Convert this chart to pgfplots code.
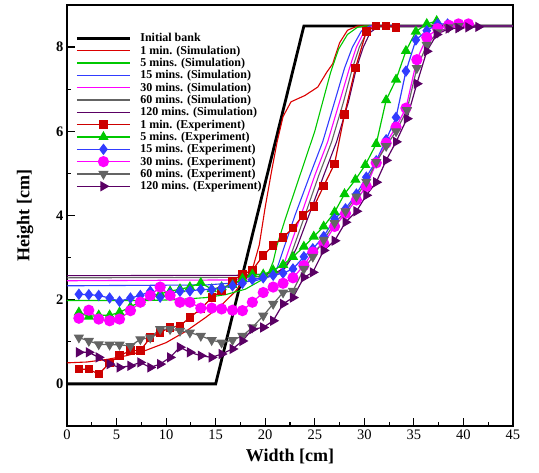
\documentclass[border=0pt]{standalone}
\usepackage{fontspec}
\setmainfont{Liberation Serif}
\usepackage{pgfplots}
\pgfplotsset{compat=1.18}
\definecolor{cred}{RGB}{220,0,0}
\definecolor{cdred}{RGB}{205,0,0}
\definecolor{cgreen}{RGB}{0,200,0}
\definecolor{cblue}{RGB}{50,60,255}
\definecolor{cmag}{RGB}{255,0,255}
\definecolor{cgray}{RGB}{100,100,100}
\definecolor{cpurp}{RGB}{90,0,100}
\begin{document}
\begin{tikzpicture}
\begin{axis}[
  scale only axis, width=446pt, height=421pt,
  xmin=0, xmax=45, ymin=-1, ymax=9,
  xtick={0,5,...,45}, ytick={0,2,4,6,8},
  minor x tick num=1, minor y tick num=1,
  tick pos=left, tick align=inside,
  major tick length=8pt, minor tick length=4pt,
  every tick/.style={black, line width=1.2pt},
  axis line style={line width=1.6pt},
  /pgf/number format/assume math mode=true,
  x tick label style={font=\fontsize{14.5}{15}\selectfont},
  y tick label style={font=\bfseries\fontsize{14.5}{15}\selectfont},
  xlabel={Width [cm]}, ylabel={Height [cm]},
  xlabel shift=3pt, ylabel shift=16pt,
  label style={font=\bfseries\fontsize{18}{19}\selectfont},
  legend style={draw=none, fill=none, at={(0.012,0.94)}, anchor=north west,
    font=\bfseries\fontsize{12}{12.5}\selectfont, row sep=0.5pt,
    nodes={inner sep=1pt},
    /tikz/every odd column/.append style={column sep=8pt}},
  legend cell align=left,
  legend image code/.code={\draw[mark repeat=2,mark phase=2] plot coordinates {(0pt,0pt) (26.5pt,0pt) (53pt,0pt)};},
]
\addplot[black, line width=2.8pt] coordinates {(0,0) (15,0) (23.9,8.5) (45,8.5)};
\addlegendentry{Initial bank}
% simulations
\addplot[cred, line width=1.1pt] coordinates {(0,0.5) (2,0.52) (4,0.58) (6,0.67) (8,0.8) (10,0.98) (12,1.25) (14,1.58) (15.5,1.85) (17,2.2) (18,2.5) (18.8,2.8) (19.4,3.3) (20,4.2) (20.6,5.0) (21.2,5.75) (21.8,6.35) (22.6,6.7) (24,6.85) (25.3,7.05) (26.2,7.4) (26.8,7.6) (27.5,8.1) (28.3,8.4) (29.3,8.5) (45,8.5)};
\addlegendentry{1 min. (Simulation)}
\addplot[cgreen, line width=1.1pt] coordinates {(0,1.98) (8,1.98) (11,2.0) (14,2.05) (16,2.12) (18,2.25) (19.5,2.45) (20.3,2.62) (20.8,2.9) (21.2,3.3) (22,3.9) (23,4.6) (24,5.3) (25,6.0) (25.8,6.7) (26.6,7.4) (27.4,7.95) (28.3,8.3) (29.3,8.47) (30,8.5) (45,8.5)};
\addlegendentry{5 mins. (Simulation)}
\addplot[cblue, line width=1.1pt] coordinates {(0,2.33) (14,2.35) (17,2.4) (19,2.45) (20.5,2.55) (21.2,2.75) (21.8,3.17) (23,4.0) (24.5,4.95) (25.8,5.75) (27,6.7) (28,7.5) (28.8,8.0) (29.7,8.38) (30.5,8.5) (45,8.5)};
\addlegendentry{15 mins. (Simulation)}
\addplot[cmag, line width=1.1pt] coordinates {(0,2.45) (17,2.47) (20,2.52) (21.3,2.62) (21.9,2.85) (22.4,3.2) (23.6,4.0) (25,4.95) (26.3,5.75) (27.5,6.7) (28.5,7.5) (29.2,8.0) (30,8.38) (30.8,8.5) (45,8.5)};
\addlegendentry{30 mins. (Simulation)}
\addplot[cgray, line width=1.1pt] coordinates {(0,2.52) (18,2.53) (20.5,2.57) (21.7,2.68) (22.3,2.9) (22.8,3.2) (24,4.0) (25.4,4.95) (26.7,5.75) (27.9,6.7) (28.8,7.5) (29.5,8.0) (30.3,8.38) (31,8.5) (45,8.5)};
\addlegendentry{60 mins. (Simulation)}
\addplot[cpurp, line width=1.1pt] coordinates {(0,2.57) (18,2.58) (20.8,2.62) (22,2.75) (22.7,3.0) (23.2,3.25) (24.4,4.0) (25.9,4.95) (27.2,5.75) (28.4,6.7) (29.2,7.5) (29.9,8.0) (30.6,8.35) (31.5,8.5) (45,8.5)};
\addlegendentry{120 mins. (Simulation)}
% experiments
\addplot[cdred, line width=1.2pt, mark=square*, mark size=3.6pt, mark options={fill=cdred, draw=cdred}] coordinates {(1.2,0.35) (2.2,0.35) (3.2,0.23) (4.3,0.5) (5.3,0.67) (6.4,0.79) (7.4,0.79) (8.4,1.1) (9.4,1.22) (10.4,1.34) (11.4,1.38) (12.4,1.58) (13.5,1.78) (14.6,2.05) (15.6,2.21) (16.7,2.45) (17.7,2.6) (18.7,2.7) (19.8,3.05) (20.8,3.29) (21.8,3.48) (22.8,3.7) (23.8,4.0) (24.9,4.21) (25.9,4.7) (27.0,5.23) (28.0,6.4) (29.1,7.5) (30.2,8.37) (31.2,8.5) (32.2,8.5) (33.2,8.47)};
\addlegendentry{1 min. (Experiment)}
\addplot[cgreen, line width=1.2pt, mark=triangle*, mark size=4.8pt, mark options={fill=cgreen, draw=cgreen}] coordinates {(1.2,1.70) (2.2,1.6) (3.2,1.63) (4.3,1.63) (5.3,1.7) (6.4,1.83) (7.4,1.95) (8.4,2.06) (9.4,2.14) (10.4,2.2) (11.4,2.25) (12.4,2.3) (13.5,2.4) (14.6,2.25) (15.6,2.3) (16.7,2.35) (17.7,2.5) (18.7,2.6) (19.8,2.6) (20.8,2.7) (21.8,2.83) (22.8,3.02) (23.9,3.26) (24.9,3.5) (25.9,3.74) (27.0,4.08) (28.0,4.51) (29.1,4.85) (30.1,5.2) (31.2,5.7) (32.2,6.74) (33.2,7.23) (34.2,7.91) (35.2,8.37) (36.3,8.55) (37.3,8.62)};
\addlegendentry{5 mins. (Experiment)}
\addplot[cblue, line width=1.2pt, mark=diamond*, mark size=4.8pt, mark options={fill=cblue, draw=cblue}] coordinates {(1.2,2.13) (2.2,2.12) (3.2,2.1) (4.3,2.04) (5.3,1.96) (6.4,2.04) (7.4,2.1) (8.4,2.2) (9.4,2.06) (10.4,2.15) (11.4,2.2) (12.4,2.21) (13.5,2.24) (14.6,2.24) (15.6,2.28) (16.7,2.33) (17.7,2.39) (18.7,2.48) (19.8,2.52) (20.8,2.58) (21.8,2.63) (22.8,2.73) (23.9,3.02) (24.8,3.21) (25.9,3.5) (27.0,3.92) (28.1,4.16) (29.2,4.51) (30.2,4.91) (31.2,5.3) (32.2,5.8) (33.2,6.33) (34.2,7.43) (35.2,8.17) (36.3,8.39) (37.4,8.55) (38.4,8.55)};
\addlegendentry{15 mins. (Experiment)}
\addplot[cmag, line width=1.2pt, mark=*, mark size=5pt, mark options={fill=cmag, draw=cmag}] coordinates {(1.2,1.56) (2.2,1.75) (3.2,1.54) (4.3,1.5) (5.3,1.54) (6.4,1.74) (7.4,1.94) (8.4,2.1) (9.4,2.3) (10.4,2.1) (11.4,1.94) (12.4,1.94) (13.5,1.8) (14.6,1.8) (15.6,1.78) (16.7,1.75) (17.7,1.74) (18.7,1.94) (19.8,2.17) (20.8,2.3) (21.8,2.39) (22.8,2.52) (23.9,2.81) (24.8,3.13) (25.9,3.34) (27.0,3.74) (28.1,4.05) (29.2,4.37) (30.2,4.69) (31.2,5.25) (32.2,5.72) (33.2,6.1) (34.2,6.55) (35.3,7.7) (36.3,8.23) (37.4,8.44) (38.5,8.52) (39.5,8.55) (40.5,8.55)};
\addlegendentry{30 mins. (Experiment)}
\addplot[cgray, line width=1.2pt, mark=triangle*, mark size=4.8pt, mark options={rotate=180, fill=cgray, draw=cgray}] coordinates {(1.2,1.1) (2.2,1.02) (3.2,0.94) (4.3,0.93) (5.3,0.93) (6.4,0.9) (7.4,1.06) (8.4,1.1) (9.4,1.3) (10.4,1.3) (11.4,1.26) (12.4,1.22) (13.5,1.14) (14.6,1.04) (15.6,0.98) (16.7,1.04) (17.7,1.14) (18.7,1.34) (19.8,1.62) (20.8,1.9) (21.8,2.17) (22.8,2.21) (23.9,2.73) (24.8,3.02) (25.9,3.42) (27.0,3.82) (28.1,4.1) (29.2,4.45) (30.2,4.8) (31.2,5.27) (32.2,5.65) (33.2,6.0) (34.3,6.5) (35.3,7.5) (36.3,8.05) (37.4,8.35) (38.5,8.47) (39.5,8.5)};
\addlegendentry{60 mins. (Experiment)}
\addplot[cpurp, line width=1.2pt, mark=triangle*, mark size=4.8pt, mark options={rotate=-90, fill=cpurp, draw=cpurp}] coordinates {(1.2,0.75) (2.2,0.75) (3.2,0.63) (4.3,0.47) (5.3,0.39) (6.4,0.43) (7.4,0.51) (8.4,0.39) (9.4,0.47) (10.4,0.63) (11.4,0.87) (12.4,0.75) (13.5,0.67) (14.6,0.63) (15.6,0.71) (16.7,0.83) (17.7,1.02) (18.7,1.3) (19.8,1.34) (20.8,1.5) (21.8,1.9) (22.8,2.05) (23.9,2.53) (24.8,2.65) (25.9,3.17) (27.0,3.4) (28.1,3.84) (29.2,4.1) (30.2,4.48) (31.2,4.79) (32.2,5.31) (33.2,5.75) (34.3,6.3) (35.3,7.13) (36.3,7.9) (37.3,8.3) (38.5,8.44) (39.5,8.45) (40.5,8.47) (41.5,8.48)};
\addlegendentry{120 mins. (Experiment)}
\end{axis}
\path (current axis.south west) ++(-67pt,-46pt) rectangle ++(539pt,472pt);
\end{tikzpicture}
\end{document}
